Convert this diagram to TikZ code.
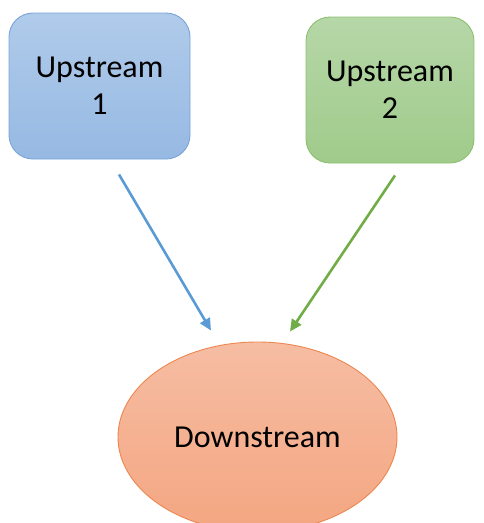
\documentclass[tikz,border=0pt]{standalone}
\usepackage{fontspec}
\setmainfont{Carlito}
\usetikzlibrary{positioning,arrows.meta,calc,shapes.geometric}
\definecolor{blueTop}{RGB}{176,203,234}
\definecolor{blueBot}{RGB}{150,185,227}
\definecolor{blueEdge}{RGB}{122,164,216}
\definecolor{greenTop}{RGB}{182,215,168}
\definecolor{greenBot}{RGB}{160,203,139}
\definecolor{greenEdge}{RGB}{140,192,111}
\definecolor{orangeTop}{RGB}{246,189,163}
\definecolor{orangeBot}{RGB}{244,166,129}
\definecolor{orangeEdge}{RGB}{237,135,80}
\definecolor{blueLine}{RGB}{91,155,213}
\definecolor{greenLine}{RGB}{112,173,71}

\begin{document}
\begin{tikzpicture}[x=1pt,y=-1pt,>={Triangle[length=12pt,width=11pt]},
  font=\fontsize{32}{37}\selectfont,
  box/.style={draw,rounded corners=24pt,line width=0.9pt,align=center,minimum height=146pt,inner sep=0pt},
  flow/.style={->,line width=2.6pt}]
\useasboundingbox (0,0) rectangle (483,523);
\clip (0,0) rectangle (483,523);
\node[box,minimum width=181pt,draw=blueEdge,top color=blueTop,bottom color=blueBot] (up1) at (99.5,86) {Upstream\\1};
\node[box,minimum width=168pt,draw=greenEdge,top color=greenTop,bottom color=greenBot] (up2) at (390,90) {Upstream\\2};
\node[ellipse,draw=orangeEdge,line width=0.9pt,top color=orangeTop,bottom color=orangeBot,minimum width=279pt,minimum height=190pt,inner sep=0pt,font=\fontsize{32}{37}\selectfont] (down) at (257.5,437) {Downstream};

\draw[flow,blueLine] ($(up1.south)+(19.5,15)$) -- ($(down.north)+(-46.5,-11)$);
\draw[flow,greenLine] ($(up2.south)+(5,12)$) -- ($(down.north)+(32.5,-10)$);
\end{tikzpicture}
\end{document}
